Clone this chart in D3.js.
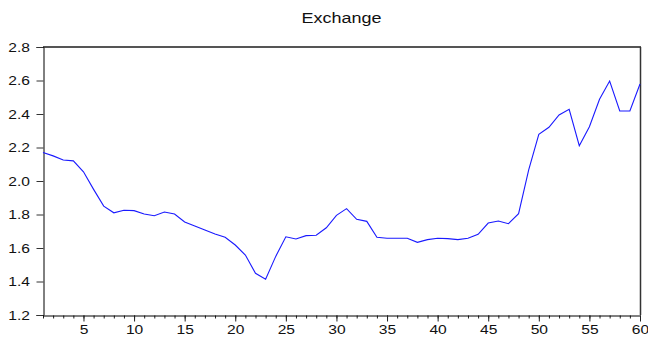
<!DOCTYPE html>
<html>
<head>
<meta charset="utf-8">
<script src="https://cdn.jsdelivr.net/npm/d3@7"></script>
<style>
  html, body { margin: 0; padding: 0; background: #fff; }
  svg { display: block; font-family: "Liberation Sans", Arial, sans-serif; }
</style>
</head>
<body>
<svg id="chart" width="648" height="337"></svg>
<script>
// Exchange rate series, periods 1..60
const periods = d3.range(1, 61);
const exchange = [
  2.17, 2.15, 2.125, 2.12, 2.055, 1.95, 1.85, 1.81, 1.825, 1.823,
  1.803, 1.793, 1.815, 1.803, 1.755, 1.731, 1.707, 1.684, 1.664, 1.618,
  1.558, 1.449, 1.413, 1.55, 1.667, 1.654, 1.674, 1.676, 1.721, 1.795,
  1.835, 1.771, 1.759, 1.664, 1.658, 1.658, 1.658, 1.634, 1.65, 1.658,
  1.656, 1.65, 1.658, 1.682, 1.749, 1.761, 1.745, 1.805, 2.066, 2.279,
  2.321, 2.394, 2.428, 2.211, 2.324, 2.488, 2.597, 2.418, 2.418, 2.579
];
const yTicks = [1.2, 1.4, 1.6, 1.8, 2.0, 2.2, 2.4, 2.6, 2.8];
const xTicks = [5, 10, 15, 20, 25, 30, 35, 40, 45, 50, 55, 60];
const title = "Exchange";

const svg = d3.select("#chart");
const plotL = 43, plotR = 640, plotT = 47, plotB = 315;
// text in this chart is drawn slightly wide
const stretch = 1.2;

const x = d3.scaleLinear().domain([1, 60]).range([plotL, plotR]);
const y = d3.scaleLinear().domain([1.2, 2.8]).range([plotB, plotT]);

// title, centred over the plot
const cx = (plotL + plotR) / 2;
svg.append("text")
  .attr("transform", `translate(${cx},23) scale(${stretch},1)`)
  .attr("text-anchor", "middle")
  .attr("font-size", 15)
  .attr("fill", "#111")
  .text(title);

// frame: top and right edges
svg.append("line").attr("x1", plotL).attr("x2", plotR + 1).attr("y1", plotT).attr("y2", plotT)
  .attr("stroke", "#555").attr("stroke-width", 2);
svg.append("line").attr("x1", plotR + 0.5).attr("x2", plotR + 0.5).attr("y1", plotT).attr("y2", plotB)
  .attr("stroke", "#333").attr("stroke-width", 1.5);

// left axis
const yAxis = d3.axisLeft(y)
  .tickValues(yTicks)
  .tickFormat(d3.format(".1f"))
  .tickSize(7)
  .tickPadding(6);
const gy = svg.append("g").attr("transform", `translate(${plotL + 0.5},0)`).call(yAxis);
gy.select(".domain").attr("stroke", "#000");
gy.selectAll(".tick line").attr("stroke", "#333");
gy.selectAll(".tick text")
  .attr("font-size", 13).attr("fill", "#111")
  .attr("font-family", "Liberation Sans, Arial, sans-serif")
  .attr("x", -13.5 / stretch)
  .attr("transform", `scale(${stretch},1)`);

// bottom axis: minor ticks every period, labelled ticks every five
const xMinor = d3.axisBottom(x).tickValues(periods).tickSize(3).tickFormat("");
const gxm = svg.append("g").attr("transform", `translate(0,${plotB + 0.5})`).call(xMinor);
gxm.select(".domain").remove();
gxm.selectAll(".tick line").attr("stroke", "#222");

const xAxis = d3.axisBottom(x).tickValues(xTicks).tickSize(6).tickPadding(3).tickSizeOuter(0);
const gx = svg.append("g").attr("transform", `translate(0,${plotB + 0.5})`).call(xAxis);
gx.select(".domain").attr("stroke", "#000");
gx.selectAll(".tick line").attr("stroke", "#222");
gx.selectAll(".tick text")
  .attr("font-size", 13).attr("fill", "#111")
  .attr("font-family", "Liberation Sans, Arial, sans-serif")
  .attr("transform", `scale(${stretch},1)`);

// series line
const line = d3.line()
  .x((d, i) => x(periods[i]))
  .y(d => y(d));
svg.append("path")
  .datum(exchange)
  .attr("fill", "none")
  .attr("stroke", "#1a1aff")
  .attr("stroke-width", 1.1)
  .attr("d", line);
</script>
</body>
</html>
